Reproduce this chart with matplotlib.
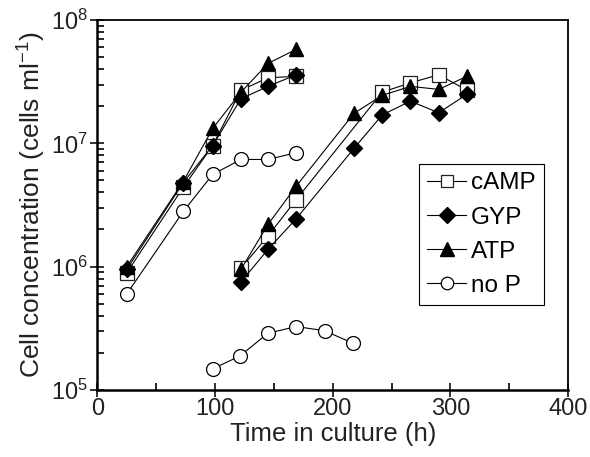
import matplotlib
matplotlib.use("Agg")
import matplotlib.pyplot as plt
from matplotlib.ticker import MultipleLocator, LogLocator, NullFormatter

plt.rcParams['font.family'] = ['Liberation Sans', 'DejaVu Sans']
plt.rcParams['mathtext.fontset'] = 'custom'
plt.rcParams['mathtext.rm'] = 'Liberation Sans'
plt.rcParams['mathtext.it'] = 'Liberation Sans:italic'

# first culture (h)
t1 = [25, 73, 98, 122, 145, 169]
camp1 = [0.89e6, 4.4e6, 9.6e6, 2.7e7, 3.4e7, 3.5e7]
gyp1 = [0.95e6, 4.8e6, 9.6e6, 2.3e7, 2.9e7, 3.6e7]
atp1 = [1.0e6, 4.9e6, 1.32e7, 2.6e7, 4.45e7, 5.8e7]
nop1 = [6.0e5, 2.8e6, 5.6e6, 7.4e6, 7.4e6, 8.4e6]

# second culture
t2_camp = [122, 145, 169, 242, 266, 290, 314]
camp2 = [0.97e6, 1.77e6, 3.5e6, 2.6e7, 3.1e7, 3.6e7, 2.7e7]
t2 = [122, 145, 169, 218, 242, 266, 290, 314]
gyp2 = [0.75e6, 1.38e6, 2.45e6, 9.1e6, 1.7e7, 2.2e7, 1.77e7, 2.5e7]
atp2 = [0.95e6, 2.2e6, 4.5e6, 1.75e7, 2.45e7, 2.9e7, 2.74e7, 3.5e7]
t2_nop = [98, 121, 145, 169, 193, 217]
nop2 = [1.48e5, 1.88e5, 2.88e5, 3.26e5, 3.02e5, 2.39e5]

fig = plt.figure(figsize=(5.9, 4.57), dpi=100)
ax = fig.add_axes([0.165, 0.147, 0.798, 0.809])

lw = 0.8
ms = 10
sq = dict(marker='s', mfc='white', mec='#222222', color='black', lw=lw, ms=ms, mew=0.9)
di = dict(marker='D', mfc='black', mec='black', color='black', lw=lw, ms=8.5)
tr = dict(marker='^', mfc='black', mec='black', color='black', lw=lw, ms=10.5)
ci = dict(marker='o', mfc='white', mec='black', color='black', lw=lw, ms=ms, mew=0.9)

ax.plot(t1, nop1, **ci)
ax.plot(t2_nop, nop2, **ci)
ax.plot(t1, camp1, label='cAMP', **sq)
ax.plot(t2_camp, camp2, **sq)
ax.plot(t1, gyp1, label='GYP', **di)
ax.plot(t2, gyp2, **di)
ax.plot(t1, atp1, label='ATP', **tr)
ax.plot(t2, atp2, **tr)
ax.plot([], [], label='no P', **ci)

ax.set_yscale('log')
ax.set_xlim(0, 400)
ax.set_ylim(1e5, 1e8)
ax.xaxis.set_major_locator(MultipleLocator(100))
ax.xaxis.set_minor_locator(MultipleLocator(50))
ax.yaxis.set_minor_locator(LogLocator(base=10, subs=range(2, 10)))
ax.yaxis.set_minor_formatter(NullFormatter())

ax.tick_params(which='major', direction='inout', length=10, width=1.3, labelsize=17,
               top=False, right=False, colors='#222222')
ax.tick_params(axis='x', which='major', pad=1)
ax.tick_params(axis='y', which='major', pad=2)
ax.tick_params(which='minor', direction='in', length=5, width=1.2, top=False, right=False)
for s in ax.spines.values():
    s.set_linewidth(1.3)
ax.spines['left'].set_linewidth(1.8)
ax.spines['bottom'].set_linewidth(1.8)

ax.set_xlabel('Time in culture (h)', fontsize=18.5, labelpad=1, color='#222222')
ax.set_ylabel('Cell concentration (cells ml$^{-1}$)', fontsize=19, labelpad=2,
              color='#222222')

h, l = ax.get_legend_handles_labels()
order = ['cAMP', 'GYP', 'ATP', 'no P']
hd = dict(zip(l, h))
leg = ax.legend([hd[k] for k in order], order, loc='upper left',
                bbox_to_anchor=(0.683, 0.611), borderaxespad=0, fontsize=17.5,
                frameon=True, fancybox=False, edgecolor='black', framealpha=1,
                handlelength=1.6, handletextpad=0.2, labelspacing=0.5,
                borderpad=0.35, markerscale=0.9)
leg.get_frame().set_linewidth(0.8)

fig.savefig('out.png', dpi=100)
